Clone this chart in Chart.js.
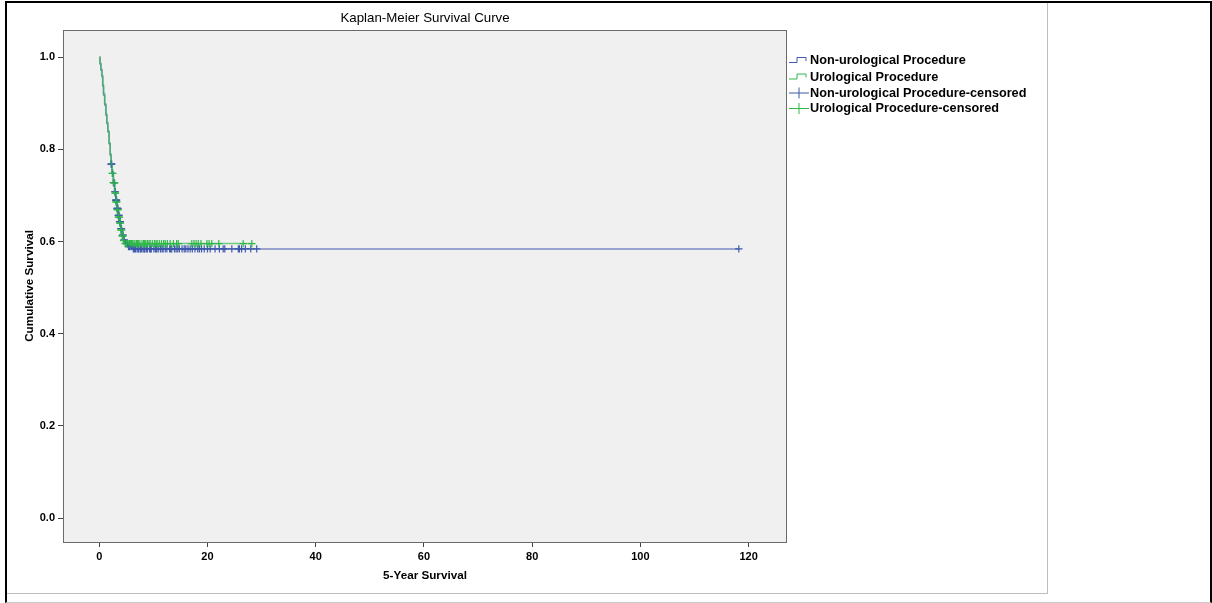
<!DOCTYPE html>
<html>
<head>
<meta charset="utf-8">
<title>Kaplan-Meier Survival Curve</title>
<script src="https://cdn.jsdelivr.net/npm/chart.js@4/dist/chart.umd.min.js"></script>
<style>
  html, body { margin: 0; padding: 0; background: #fff; }
  #wrap { position: relative; width: 1212px; height: 603px; overflow: hidden; }
  #km { position: absolute; left: 0; top: 0; }
  .frame-outer {
    position: absolute; left: 5px; top: 1px; width: 1203px; height: 599px;
    border-left: 2px solid #000; border-top: 2px solid #000; border-right: 2px solid #000;
    border-bottom: 1px solid #c8c8c8; pointer-events: none;
  }
  .frame-inner {
    position: absolute; left: 7px; top: 3px; width: 1040px; height: 590px;
    border-right: 1px solid #bdbdbd; border-bottom: 1px solid #bdbdbd; pointer-events: none;
  }
</style>
</head>
<body>
<div id="wrap">
  <canvas id="km" width="1212" height="603"></canvas>
  <div class="frame-outer"></div>
  <div class="frame-inner"></div>
</div>
<script>
// Kaplan-Meier step estimates: event times (years) and survival after each event
const nonUroTimes = [0, 0.15, 0.32, 0.5, 0.66, 0.8, 1.02, 1.24, 1.41, 1.6, 1.82, 2.03, 2.18, 2.34, 2.6, 2.83, 3.05, 3.27, 3.48, 3.69, 3.95, 4.19, 4.5, 4.8, 5.3, 6.1, 118.2];
const nonUroSurv  = [1.0, 0.985, 0.972, 0.958, 0.937, 0.918, 0.896, 0.874, 0.856, 0.838, 0.812, 0.787, 0.768, 0.751, 0.728, 0.708, 0.690, 0.672, 0.657, 0.643, 0.628, 0.614, 0.603, 0.596, 0.589, 0.584, 0.584];

const uroTimes = [0, 0.12, 0.28, 0.45, 0.62, 0.78, 0.98, 1.2, 1.38, 1.57, 1.8, 2.0, 2.2, 2.38, 2.62, 2.86, 3.1, 3.3, 3.52, 3.74, 3.98, 4.22, 4.46, 4.75, 28.2];
const uroSurv  = [1.0, 0.987, 0.974, 0.96, 0.94, 0.921, 0.899, 0.877, 0.859, 0.84, 0.814, 0.79, 0.767, 0.748, 0.727, 0.705, 0.686, 0.669, 0.653, 0.64, 0.625, 0.612, 0.602, 0.5955, 0.5955];

// Censored observation times
const nonUroCensored = [2.2, 2.25, 2.3, 2.6, 2.9, 2.95, 3.05, 3.1, 3.2, 3.3, 3.35, 3.45, 3.5, 3.6, 3.65, 3.75,
  3.85, 3.9, 4.0, 4.1, 4.3, 4.4, 4.55, 4.6, 4.9, 5.0, 5.2, 5.4, 5.6, 5.9,
  6.3, 6.5, 6.7, 7.0, 7.2, 7.3, 7.6, 7.8, 8.1, 8.3, 8.4, 8.7, 8.9, 9.3, 9.5, 9.6, 10.1, 10.4, 10.6, 10.9, 11.3,
  11.6, 11.8, 12.2, 12.5, 13.0, 13.2, 13.4, 13.9, 14.2, 14.5, 14.8, 15.3, 15.7, 16.0, 16.4, 16.8, 17.2, 17.7,
  18.2, 18.5, 18.9, 19.4, 20.0, 20.5, 21.4, 22.2, 22.9, 23.2, 24.5, 25.7, 25.9, 26.3, 27.0, 28.0, 29.1, 118.2];
const uroCensored = [2.4, 2.5, 2.7, 2.8, 2.85, 2.95, 3.0, 3.1, 3.15, 3.25, 3.3, 3.4, 3.45, 3.55, 3.6, 3.7,
  3.8, 3.9, 4.0, 4.05, 4.15, 4.25, 4.3, 4.4, 4.5,
  4.8, 5.0, 5.1, 5.3, 5.5, 5.6, 5.8, 6.0, 6.1, 6.4, 6.6, 6.9, 7.1, 7.2, 7.5, 7.9, 8.2, 8.4, 8.6, 8.9, 9.2, 9.4,
  9.8, 10.2, 10.5, 10.7, 11.1, 11.5, 11.9, 12.2, 12.6, 13.1, 13.7, 14.3, 14.6, 17.1, 17.5, 17.9, 18.3, 18.8,
  19.9, 20.3, 20.8, 22.1, 26.6, 28.2];

const seriesNames = ['Non-urological Procedure', 'Urological Procedure',
                     'Non-urological Procedure-censored', 'Urological Procedure-censored'];
const xTickValues = [0, 20, 40, 60, 80, 100, 120];
const yTickValues = [0.0, 0.2, 0.4, 0.6, 0.8, 1.0];

const BLUE = '#3e58ac';
const GREEN = '#2eb848';
const BLUE_LINE = 'rgba(62, 88, 172, 0.65)';
const GREEN_LINE = 'rgba(46, 184, 72, 0.65)';
const FONT = '"Liberation Sans", Arial, sans-serif';

function toPoints(times, surv) {
  return times.map((t, i) => ({ x: t, y: surv[i] }));
}
// survival level of a step curve at time t
function stepValue(times, surv, t) {
  let v = surv[0];
  for (let i = 0; i < times.length; i++) { if (times[i] <= t) v = surv[i]; }
  return v;
}
function censorPoints(cens, times, surv) {
  return cens.map(t => ({ x: t, y: stepValue(times, surv, t) }));
}

// grey plot background plus the frame around it
const plotBox = {
  id: 'plotBox',
  beforeDatasetsDraw(chart) {
    const { ctx, chartArea: a } = chart;
    ctx.save();
    ctx.fillStyle = '#f0f0f0';
    ctx.fillRect(a.left, a.top, a.right - a.left, a.bottom - a.top);
    ctx.restore();
  },
  afterDatasetsDraw(chart) {
    const { ctx, chartArea: a } = chart;
    ctx.save();
    ctx.strokeStyle = '#6a6a6a';
    ctx.lineWidth = 1;
    ctx.strokeRect(Math.round(a.left) + 0.5, Math.round(a.top) + 0.5,
                   Math.round(a.right - a.left) - 1, Math.round(a.bottom - a.top));
    ctx.restore();
  }
};

// legend to the right of the plot with step and cross symbols
const sideLegend = {
  id: 'sideLegend',
  afterDraw(chart) {
    const { ctx, chartArea: a } = chart;
    const x0 = a.right + 2;
    const rows = [60.5, 77, 93, 108.5];
    const colors = [BLUE, GREEN, BLUE, GREEN];
    ctx.save();
    ctx.lineWidth = 1;
    rows.forEach((y, i) => {
      ctx.strokeStyle = colors[i];
      ctx.beginPath();
      if (i < 2) {
        ctx.moveTo(x0, y + 2);
        ctx.lineTo(x0 + 8, y + 2);
        ctx.lineTo(x0 + 8, y - 3);
        ctx.lineTo(x0 + 17, y - 3);
        ctx.lineTo(x0 + 17, y + 0.5);
      } else {
        ctx.moveTo(x0, y);
        ctx.lineTo(x0 + 20, y);
        ctx.moveTo(x0 + 10, y - 5.5);
        ctx.lineTo(x0 + 10, y + 5.5);
      }
      ctx.stroke();
      ctx.fillStyle = '#000';
      ctx.font = 'bold 12.7px ' + FONT;
      ctx.textBaseline = 'middle';
      ctx.textAlign = 'left';
      ctx.fillText(seriesNames[i], x0 + 21, y);
    });
    ctx.restore();
  }
};

const tickFont = { family: FONT, size: 11, weight: 'bold' };
const axisTitleFont = { family: FONT, size: 11.7, weight: 'bold' };

new Chart(document.getElementById('km'), {
  type: 'line',
  data: {
    datasets: [
      { label: seriesNames[0], data: toPoints(nonUroTimes, nonUroSurv), borderColor: BLUE_LINE,
        borderWidth: 1.5, stepped: 'before', pointRadius: 0, fill: false, order: 2 },
      { label: seriesNames[1], data: toPoints(uroTimes, uroSurv), borderColor: GREEN_LINE,
        borderWidth: 1.5, stepped: 'before', pointRadius: 0, fill: false, order: 1 },
      { label: seriesNames[2], data: censorPoints(nonUroCensored, nonUroTimes, nonUroSurv),
        showLine: false, pointStyle: 'cross', pointRadius: 3.7, pointBorderWidth: 1.2,
        borderColor: BLUE, pointBorderColor: BLUE, order: 4 },
      { label: seriesNames[3], data: censorPoints(uroCensored, uroTimes, uroSurv),
        showLine: false, pointStyle: 'cross', pointRadius: 3.7, pointBorderWidth: 1.2,
        borderColor: GREEN, pointBorderColor: GREEN, order: 3 }
    ]
  },
  options: {
    responsive: false,
    animation: false,
    events: [],
    layout: { padding: { left: 0, top: 0, right: 425, bottom: 11 } },
    plugins: {
      legend: { display: false },
      tooltip: { enabled: false },
      title: {
        display: true,
        text: 'Kaplan-Meier Survival Curve',
        fullSize: false,
        color: '#000',
        font: { family: FONT, size: 13.3, weight: 'normal' },
        padding: { top: 10, bottom: 4 }
      }
    },
    scales: {
      x: {
        type: 'linear',
        min: -6.7,
        max: 127.1,
        afterBuildTicks(scale) { scale.ticks = xTickValues.map(v => ({ value: v })); },
        afterFit(scale) { scale.height = 50; },
        ticks: { color: '#000', font: tickFont, padding: 3, maxRotation: 0,
                 callback: v => String(v) },
        grid: { drawOnChartArea: false, drawTicks: true, tickLength: 5, color: '#444' },
        border: { display: false },
        title: { display: true, text: '5-Year Survival', color: '#000', font: axisTitleFont,
                 padding: { top: 0, bottom: 9 } }
      },
      y: {
        type: 'linear',
        min: -0.052,
        max: 1.059,
        afterBuildTicks(scale) { scale.ticks = yTickValues.map(v => ({ value: v })); },
        afterFit(scale) { scale.width = 63; },
        ticks: { color: '#000', font: tickFont, padding: 3,
                 callback: v => Number(v).toFixed(1) },
        grid: { drawOnChartArea: false, drawTicks: true, tickLength: 5, color: '#444' },
        border: { display: false },
        title: { display: true, text: 'Cumulative Survival', color: '#000', font: axisTitleFont,
                 padding: { top: 23, bottom: 0 } }
      }
    }
  },
  plugins: [plotBox, sideLegend]
});
</script>
</body>
</html>
